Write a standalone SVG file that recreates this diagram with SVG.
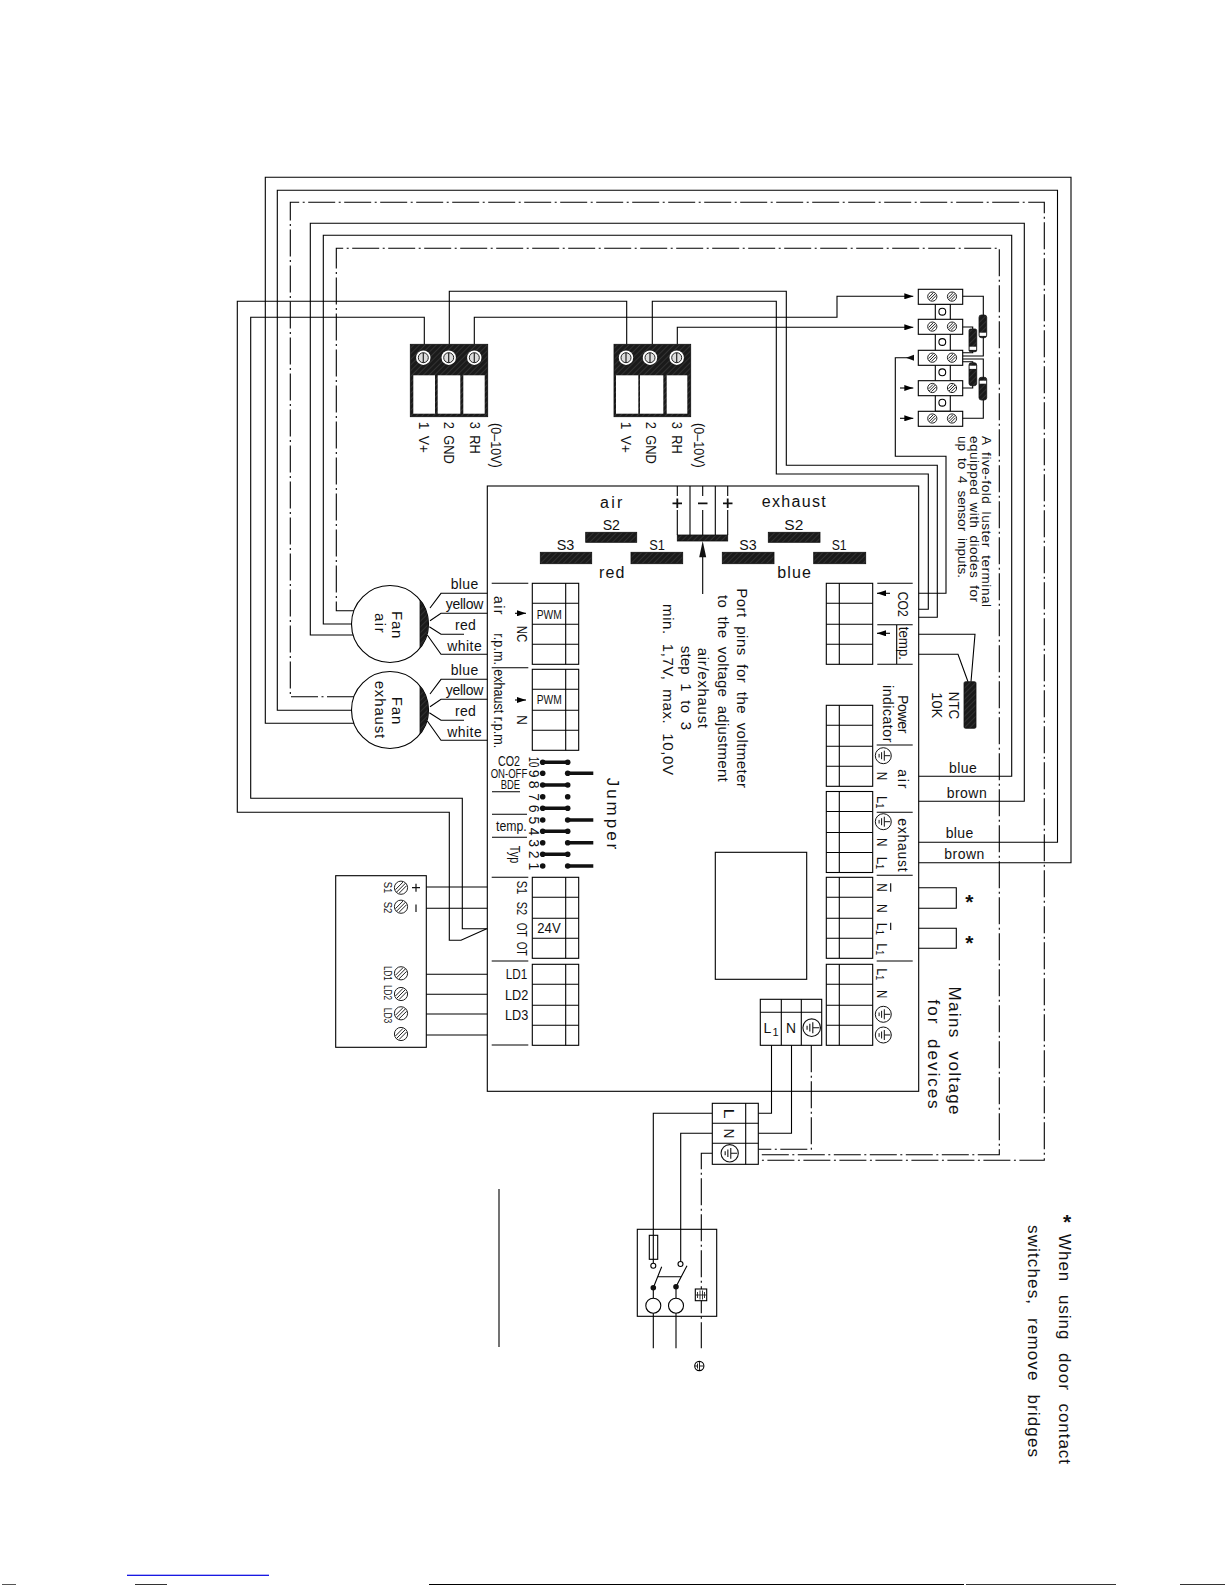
<svg xmlns="http://www.w3.org/2000/svg" width="1225" height="1585" viewBox="0 0 1225 1585">
<style>
text{font-family:"Liberation Sans",Arial,sans-serif;font-size:14px;fill:#111}
.s{font-size:11px}.m{font-size:12.5px}.l{font-size:17px}.c{font-size:15px}.a{font-size:13.5px}.p{font-size:15px}.bt{font-size:16px}
.ws{word-spacing:3px}
.l.ws{word-spacing:7px}
.p.ws{word-spacing:4px}
.st{font-size:21px;font-weight:bold}
.w,.n{fill:none;stroke:#000;stroke-width:1.1}
.d{fill:none;stroke:#000;stroke-width:1.1;stroke-dasharray:27 3.5 2 3.5}
.f{fill:#fff;stroke:#000;stroke-width:1.1}
.h{fill:url(#hatch);stroke:#111;stroke-width:.8}
.b{fill:#111}
.t{stroke:#111;stroke-width:3.4;fill:none}
</style>
<defs>
<pattern id="hatch" width="4" height="4" patternUnits="userSpaceOnUse" patternTransform="rotate(45)"><rect width="4" height="4" fill="#1a1a1a"/><line x1="0" y1="0" x2="0" y2="4" stroke="#4a4a4a" stroke-width="1"/></pattern>
<marker id="ah" markerUnits="userSpaceOnUse" markerWidth="9" markerHeight="6" refX="9" refY="3" orient="auto"><path d="M0,0L9,3L0,6z" fill="#000"/></marker>
<g id="earth"><circle r="8" fill="#fff" stroke="#111" stroke-width="1"/><path d="M7,0H1M1,-5V5M-1.7,-3.5V3.5M-4.2,-1.8V1.8" stroke="#111" stroke-width="1" fill="none"/></g>
<g id="sc"><circle r="7.2" fill="#fff"/><circle r="5" fill="#ddd" stroke="#222" stroke-width="1"/><path d="M0,-5V5" stroke="#222" stroke-width="1.2"/></g>
<g id="hs"><circle r="4.6" fill="#fff" stroke="#222" stroke-width="1"/><path d="M-3,3L3,-3M-3.6,.8L.8,-3.6M-.8,3.6L3.6,-.8" stroke="#222" stroke-width="1"/></g>
<g id="hb"><circle r="6.6" fill="#fff" stroke="#222" stroke-width="1"/><path d="M-4.6,4.6L4.6,-4.6M-5.6,2L2,-5.6M-2,5.6L5.6,-2" stroke="#222" stroke-width="1"/></g>
<g id="blk"><rect x="0" y="0" width="46.4" height="81" class="n"/><path d="M33.4,0V81M0,20H46.4M0,41H46.4M0,61H46.4" class="n"/></g>
<g id="brk"><rect x="0" y="0" width="46.4" height="81" class="n"/><path d="M13,0V81M0,20H46.4M0,41H46.4M0,61H46.4" class="n"/></g>
</defs>

<g id="connectors">
<path class="w" d="M354,723.3H265.3V177.3H1071V862.7H918.7"/>
<path class="w" d="M351.5,710.3H277.3V190.3H1057.5V842.3H918.7"/>
<path class="d" d="M354,696.7H290.3V202.3H1044.3V1160.3H758.3"/>
<path class="w" d="M353,635H310.3V223.3H1024.3V801.3H918.7"/>
<path class="w" d="M351.5,624H323.3V235.3H1011.7V776.3H918.7"/>
<path class="d" d="M354,610.7H336.3V248.3H999.3V1154.7H758.3"/>
<path class="w" d="M626.7,344.3V301.3H237.3V812.3H449.3V940.3H461L486.7,928.7"/>
<path class="w" d="M424.3,344.3V317.3H250.7V798.3H462.3V928.7H487.3"/>
<path class="w" d="M449.3,344.3V291.3H786.3V465.3H937.3V617.3H918.7"/>
<path class="w" d="M652.3,344.3V301.3H776.3V474H928.3V609.3H918.7"/>
<path class="w" marker-end="url(#ah)" d="M474.3,344.3V317.3H837V296.3H913.3"/>
<path class="w" marker-end="url(#ah)" d="M677.3,344.3V327.3H913.3"/>
<path class="w" d="M918.7,593.3H946V456.3H895.3V357.7H914"/>
<path class="w" d="M918.7,634.3H975L971,681.7M918.7,654.3H958L968,681.7"/>
<path class="w" d="M918.7,887.7H956.3V908.3H918.7M918.7,928.3H956.3V948.3H918.7"/>
<path class="w" d="M771.5,1045.3V1113.3H758.3M791.5,1045.3V1133.3H758.3"/>
<path class="d" d="M811.3,1045.3V1149.3H758.3"/>
<path class="w" d="M712.3,1113.3H653.3V1235.3M712.3,1133.3H680.7V1261.5"/>
<path class="d" d="M712.3,1153.3H701.3V1348.3"/>
<path class="w" d="M426.3,887H487.3M426.3,908.3H487.3M426.3,974.3H487.3M426.3,994.3H487.3M426.3,1014H487.3M426.3,1035H487.3"/>
</g>

<g id="sensor-air">
<rect x="410.3" y="344.3" width="77.4" height="72.4" class="h"/>
<rect x="413.3" y="375.3" width="21.7" height="38.4" fill="#fff"/><rect x="437.7" y="375.3" width="22.6" height="38.4" fill="#fff"/><rect x="463.3" y="375.3" width="21.4" height="38.4" fill="#fff"/>
<use href="#sc" x="423.3" y="357.7"/><use href="#sc" x="448.7" y="357.7"/><use href="#sc" x="474.3" y="357.7"/>
<text class="ws" transform="translate(418.5 421.7) rotate(90)" textLength="31.3">1 V+</text>
<text class="ws" transform="translate(443.5 421.7) rotate(90)" textLength="42" lengthAdjust="spacingAndGlyphs">2 GND</text>
<text class="ws" transform="translate(469.5 421.7) rotate(90)" textLength="32" lengthAdjust="spacingAndGlyphs">3 RH</text>
<text transform="translate(491 423) rotate(90)" textLength="44.7" lengthAdjust="spacingAndGlyphs">(0–10V)</text>
</g>
<g id="sensor-exhaust">
<rect x="614" y="344.3" width="76.7" height="72.4" class="h"/>
<rect x="616" y="375.3" width="22.3" height="38.4" fill="#fff"/><rect x="640" y="375.3" width="23.3" height="38.4" fill="#fff"/><rect x="666.7" y="375.3" width="20.6" height="38.4" fill="#fff"/>
<use href="#sc" x="626" y="357.7"/><use href="#sc" x="650" y="357.7"/><use href="#sc" x="676.7" y="357.7"/>
<text class="ws" transform="translate(620.5 421.7) rotate(90)" textLength="31.3">1 V+</text>
<text class="ws" transform="translate(646 421.7) rotate(90)" textLength="42" lengthAdjust="spacingAndGlyphs">2 GND</text>
<text class="ws" transform="translate(672 421.7) rotate(90)" textLength="32" lengthAdjust="spacingAndGlyphs">3 RH</text>
<text transform="translate(693.5 423) rotate(90)" textLength="44.7" lengthAdjust="spacingAndGlyphs">(0–10V)</text>
</g>

<g id="luster-terminal">
<rect x="935.3" y="304.3" width="15" height="107" class="n"/>
<circle cx="942.3" cy="311.7" r="3.4" class="f"/><circle cx="942.3" cy="342" r="3.4" class="f"/><circle cx="942.3" cy="372.3" r="3.4" class="f"/><circle cx="942.3" cy="402.7" r="3.4" class="f"/>
<rect x="918.3" y="289.3" width="44.4" height="15" class="f"/><rect x="918.3" y="319.3" width="44.4" height="15" class="f"/><rect x="918.3" y="350.3" width="44.4" height="15" class="f"/><rect x="918.3" y="380.7" width="44.4" height="15" class="f"/><rect x="918.3" y="411.3" width="44.4" height="15" class="f"/>
<use href="#hs" x="932.3" y="296.6"/><use href="#hs" x="952" y="296.6"/><use href="#hs" x="932.3" y="326.6"/><use href="#hs" x="952" y="326.6"/><use href="#hs" x="932.3" y="357.7"/><use href="#hs" x="952" y="357.7"/><use href="#hs" x="932.3" y="388"/><use href="#hs" x="952" y="388"/><use href="#hs" x="932.3" y="418.5"/><use href="#hs" x="952" y="418.5"/>
<path class="w" d="M962.7,296.3H983.3V356H962.7M962.7,327H972.7V352.7H962.7M962.7,418.3H983.3V359H962.7M962.7,388H972.7V361.7H962.7"/>
<rect x="979" y="315" width="7.7" height="22.7" rx="2.4" class="h"/><rect x="979.6" y="332.7" width="6.5" height="3.2" fill="#fff"/>
<rect x="969" y="329" width="7.7" height="22.7" rx="1.5" class="h"/><rect x="969.6" y="346.7" width="6.5" height="3.2" fill="#fff"/>
<rect x="979" y="377.3" width="7.7" height="22.7" rx="2.4" class="h"/><rect x="979.6" y="380.7" width="6.5" height="3" fill="#fff"/>
<rect x="969" y="362.7" width="7.7" height="23" rx="2.4" class="h"/><rect x="969.6" y="365.7" width="6.5" height="3.2" fill="#fff"/>
<path class="w" marker-end="url(#ah)" d="M900,388H913.3"/>
<path class="w" marker-end="url(#ah)" d="M900,418.3H913.3"/>
<path d="M906,357.7L914,354.7V360.7z" class="b"/>
<text class="a ws" transform="translate(982 436) rotate(90)" textLength="171">A five-fold luster terminal</text>
<text class="a ws" transform="translate(970 436) rotate(90)" textLength="166">equipped with diodes for</text>
<text class="a ws" transform="translate(958 436) rotate(90)" textLength="142">up to 4 sensor inputs.</text>
</g>

<g id="fan-air">
<circle cx="390" cy="624" r="38.5" class="f"/>
<path class="h" d="M420,600.3A38.5,38.5 0 0 1 420,647.7z"/>
<path class="w" d="M430,608L441,593.3H487.3M430,620.7L441,613.3H487.3M429.3,626.7L441,634.3H464M427.3,635L441,654.3H487.3"/>
<text x="450.7" y="589" textLength="27.6">blue</text>
<text x="445.7" y="608.5" textLength="37.6">yellow</text>
<text x="455" y="630" textLength="20.7">red</text>
<text x="447.3" y="650.5" textLength="34.4">white</text>
<text class="c" transform="translate(391.7 611) rotate(90)" textLength="27.3">Fan</text>
<text class="c" transform="translate(375 613) rotate(90)" textLength="19.7">air</text>
</g>
<g id="fan-exhaust">
<circle cx="390" cy="710" r="38.5" class="f"/>
<path class="h" d="M420,686.3A38.5,38.5 0 0 1 420,733.7z"/>
<path class="w" d="M430,694L441,679.3H487.3M430,706.7L441,699.3H487.3M429.3,712.7L441,720.3H464M427.3,721L441,740.3H487.3"/>
<text x="450.7" y="675" textLength="27.6">blue</text>
<text x="445.7" y="694.5" textLength="37.6">yellow</text>
<text x="455" y="716" textLength="20.7">red</text>
<text x="447.3" y="736.5" textLength="34.4">white</text>
<text class="c" transform="translate(392 696.7) rotate(90)" textLength="27.6">Fan</text>
<text class="c" transform="translate(375 680.7) rotate(90)" textLength="57.6">exhaust</text>
</g>

<g id="controller">
<rect x="335.7" y="875.7" width="90.6" height="171.6" class="n"/>
<use href="#hb" x="401" y="887.7"/><use href="#hb" x="401" y="906.7"/><use href="#hb" x="401" y="973.3"/><use href="#hb" x="401" y="994"/><use href="#hb" x="401" y="1013.3"/><use href="#hb" x="401" y="1034"/>
<text class="s" transform="translate(383.5 881.7) rotate(90)" textLength="11.6" lengthAdjust="spacingAndGlyphs">S1</text>
<text class="s" transform="translate(383.5 901.7) rotate(90)" textLength="11.6" lengthAdjust="spacingAndGlyphs">S2</text>
<text class="s" transform="translate(383.5 966) rotate(90)" textLength="14.7" lengthAdjust="spacingAndGlyphs">LD1</text>
<text class="s" transform="translate(383.5 985) rotate(90)" textLength="15" lengthAdjust="spacingAndGlyphs">LD2</text>
<text class="s" transform="translate(383.5 1007.7) rotate(90)" textLength="15.6" lengthAdjust="spacingAndGlyphs">LD3</text>
<path d="M412,887.7H420M416,883.7V891.7M416,904.5V912" stroke="#111" stroke-width="1.2"/>
</g>

<g id="board">
<rect x="487.3" y="486" width="431.4" height="605.3" class="n"/>
<rect x="715.3" y="852.3" width="91.4" height="127" class="n"/>
<text class="bt" x="600" y="508" textLength="22.3">air</text>
<text class="bt" x="761.7" y="507.3" textLength="64">exhaust</text>
<text class="bt" x="599" y="578.3" textLength="25.3">red</text>
<text class="bt" x="777.3" y="577.7" textLength="33.7">blue</text>
<text class="c" x="602.7" y="530" textLength="17.3" lengthAdjust="spacingAndGlyphs">S2</text>
<text class="c" x="784.3" y="530" textLength="19" lengthAdjust="spacingAndGlyphs">S2</text>
<text class="c" x="556.7" y="550" textLength="17.6" lengthAdjust="spacingAndGlyphs">S3</text>
<text class="c" x="739.3" y="550" textLength="17.4" lengthAdjust="spacingAndGlyphs">S3</text>
<text class="c" x="649.3" y="550" textLength="15.7" lengthAdjust="spacingAndGlyphs">S1</text>
<text class="c" x="831.7" y="550" textLength="15" lengthAdjust="spacingAndGlyphs">S1</text>
<rect x="585.7" y="532.3" width="51" height="10" class="h"/><rect x="768.3" y="532.3" width="51.7" height="10" class="h"/>
<rect x="540.3" y="552.3" width="51.4" height="11.4" class="h"/><rect x="631" y="552.3" width="51.7" height="11.4" class="h"/><rect x="722.3" y="552.3" width="51.7" height="11.4" class="h"/><rect x="813.7" y="552.3" width="52" height="11.4" class="h"/>
<rect x="677.3" y="535" width="50.4" height="6" class="h"/>
<path class="n" d="M677.3,486V496M677.3,510V535M690,486V535M702.7,486V496M702.7,510V535M715.3,486V535M727.7,486V496M727.7,510V535"/>
<path d="M672.5,503.3H682M677.3,498.5V508M698,503.3H707.5M723,503.3H732.5M727.7,498.5V508" stroke="#111" stroke-width="1.8" fill="none"/>
<path class="n" d="M702.7,557V594"/><path class="b" d="M702.7,541L706.2,557.3H699.2z"/>
<text class="p ws" transform="translate(736.5 588.3) rotate(90)" textLength="199.7">Port pins for the voltmeter</text>
<text class="p ws" transform="translate(717.5 595) rotate(90)" textLength="186.7">to the voltage adjustment</text>
<text class="p" transform="translate(698 647.7) rotate(90)" textLength="80.3">air/exhaust</text>
<text class="p ws" transform="translate(681 645.7) rotate(90)" textLength="84.3">step 1 to 3</text>
<text class="p ws" transform="translate(663 604) rotate(90)" textLength="171">min. 1,7V, max. 10,0V</text>

<g id="left-terminals">
<path class="n" d="M491.7,583.3H528.3M491.7,667.7H528.3M491.7,877.3H528.3M491.7,961H528.3M491.7,1045H528.3"/>
<use href="#blk" x="532.3" y="583.3"/><use href="#blk" x="532.3" y="669.3"/><use href="#blk" x="532.3" y="877.3"/><use href="#blk" x="532.3" y="964.3"/>
<text class="m" x="536.7" y="619" textLength="25" lengthAdjust="spacingAndGlyphs">PWM</text>
<text class="m" x="536.7" y="704.3" textLength="25" lengthAdjust="spacingAndGlyphs">PWM</text>
<text x="537.3" y="933.3" textLength="23.4" lengthAdjust="spacingAndGlyphs">24V</text>
<text transform="translate(494 596) rotate(90)" textLength="18.3">air</text>
<text transform="translate(494 633.3) rotate(90)" textLength="31.7" lengthAdjust="spacingAndGlyphs">r.p.m.</text>
<text transform="translate(516.7 625.7) rotate(90)" textLength="16.6" lengthAdjust="spacingAndGlyphs">NC</text>
<text transform="translate(494 669.3) rotate(90)" textLength="79" lengthAdjust="spacingAndGlyphs">exhaust r.p.m.</text>
<text transform="translate(516.7 715) rotate(90)" textLength="10" lengthAdjust="spacingAndGlyphs">N</text>
<path class="w" marker-end="url(#ah)" d="M515,613.3H526"/>
<path class="w" marker-end="url(#ah)" d="M515,700H526"/>
<text class="c" transform="translate(516.7 880.7) rotate(90)" textLength="13.6" lengthAdjust="spacingAndGlyphs">S1</text>
<text class="c" transform="translate(516.7 901.7) rotate(90)" textLength="13.3" lengthAdjust="spacingAndGlyphs">S2</text>
<text class="c" transform="translate(516.7 922.7) rotate(90)" textLength="14" lengthAdjust="spacingAndGlyphs">OT</text>
<text class="c" transform="translate(516.7 941.7) rotate(90)" textLength="14" lengthAdjust="spacingAndGlyphs">OT</text>
<text class="c" x="505.7" y="979.3" textLength="21.6" lengthAdjust="spacingAndGlyphs">LD1</text>
<text class="c" x="505" y="1000" textLength="23.3" lengthAdjust="spacingAndGlyphs">LD2</text>
<text class="c" x="505" y="1020" textLength="23.3" lengthAdjust="spacingAndGlyphs">LD3</text>
</g>

<g id="jumper">
<path class="n" d="M492,791.7H520M492,814.3H527M492,837.3H527"/>
<text x="498" y="766" textLength="22" lengthAdjust="spacingAndGlyphs">CO2</text>
<text class="m" x="490.7" y="777.7" textLength="36.6" lengthAdjust="spacingAndGlyphs">ON-OFF</text>
<text class="m" x="500.7" y="789" textLength="19.3" lengthAdjust="spacingAndGlyphs">BDE</text>
<text x="496" y="830.7" textLength="30.7" lengthAdjust="spacingAndGlyphs">temp.</text>
<text transform="translate(510 845.7) rotate(90)" textLength="17.6" lengthAdjust="spacingAndGlyphs">Typ</text>
<text class="l" transform="translate(607 777.7) rotate(90)" textLength="71.6">Jumper</text>
<text transform="translate(529 756.7) rotate(90)" textLength="10.6" lengthAdjust="spacingAndGlyphs">10</text>
<g style="font-size:13px">
<text transform="translate(529 769.8) rotate(90)">9</text><text transform="translate(529 780.8) rotate(90)">8</text><text transform="translate(529 793.2) rotate(90)">7</text><text transform="translate(529 804.8) rotate(90)">6</text><text transform="translate(529 816.5) rotate(90)">5</text><text transform="translate(529 827.8) rotate(90)">4</text><text transform="translate(529 839.2) rotate(90)">3</text><text transform="translate(529 850.8) rotate(90)">2</text><text transform="translate(529 862.5) rotate(90)">1</text>
</g>
<path class="t" d="M542.7,762.3H567.7M542.7,785H567.7M542.7,808.3H567.7M542.7,831.3H567.7M542.7,854.3H567.7M567.7,773.3H593.3M567.7,820H593.3M567.7,842.7H593.3M567.7,866H593.3"/>
<g class="b"><circle cx="542.7" cy="762.3" r="2.8"/><circle cx="567.7" cy="762.3" r="2.8"/><circle cx="542.7" cy="773.3" r="2.8"/><circle cx="567.7" cy="773.3" r="2.8"/><circle cx="542.7" cy="785" r="2.8"/><circle cx="567.7" cy="785" r="2.8"/><circle cx="542.7" cy="796.7" r="2.8"/><circle cx="567.7" cy="796.7" r="2.8"/><circle cx="542.7" cy="808.3" r="2.8"/><circle cx="567.7" cy="808.3" r="2.8"/><circle cx="542.7" cy="820" r="2.8"/><circle cx="567.7" cy="820" r="2.8"/><circle cx="542.7" cy="831.3" r="2.8"/><circle cx="567.7" cy="831.3" r="2.8"/><circle cx="542.7" cy="842.7" r="2.8"/><circle cx="567.7" cy="842.7" r="2.8"/><circle cx="542.7" cy="854.3" r="2.8"/><circle cx="567.7" cy="854.3" r="2.8"/><circle cx="542.7" cy="866" r="2.8"/><circle cx="567.7" cy="866" r="2.8"/></g>
</g>

<g id="right-terminals">
<use href="#brk" x="826.3" y="583.3"/><use href="#brk" x="826.3" y="705.3"/><use href="#brk" x="826.3" y="791.5"/><use href="#brk" x="826.3" y="877.3"/><use href="#brk" x="826.3" y="964.3"/>
<path class="n" d="M877.3,583.3H912.7M877.3,624.7H912.7M877.3,664.3H912.7M876.7,745H912.7M876.7,812.3H912.7M876.7,875.3H912.7M876.7,961H912.7M896.7,624.7V664.3"/>
<path class="w" marker-end="url(#ah)" d="M890,593.3H877"/>
<path class="w" marker-end="url(#ah)" d="M890,633.3H877"/>
<text transform="translate(897.7 591.7) rotate(90)" textLength="25" lengthAdjust="spacingAndGlyphs">CO2</text>
<text transform="translate(898.5 626.7) rotate(90)" textLength="33.3" lengthAdjust="spacingAndGlyphs">temp.</text>
<text transform="translate(897.7 695) rotate(90)" textLength="38.3">Power</text>
<text transform="translate(883 685) rotate(90)" textLength="57.3">indicator</text>
<text transform="translate(898.3 769.3) rotate(90)" textLength="19">air</text>
<text transform="translate(898.3 818.3) rotate(90)" textLength="53.4">exhaust</text>
<use href="#earth" x="883.3" y="755.7"/><use href="#earth" x="883.3" y="821.7"/><use href="#earth" x="883.3" y="1014.3"/><use href="#earth" x="883.3" y="1035"/>
<text transform="translate(877 771.7) rotate(90)" textLength="8.6" lengthAdjust="spacingAndGlyphs">N</text>
<text transform="translate(877 796) rotate(90)" textLength="12.3" lengthAdjust="spacingAndGlyphs">L<tspan font-size="10" dy="1.5">1</tspan></text>
<text transform="translate(877 838) rotate(90)" textLength="8.6" lengthAdjust="spacingAndGlyphs">N</text>
<text transform="translate(877 856.7) rotate(90)" textLength="12.6" lengthAdjust="spacingAndGlyphs">L<tspan font-size="10" dy="1.5">1</tspan></text>
<text transform="translate(877 883.3) rotate(90)" textLength="8.4" lengthAdjust="spacingAndGlyphs">N</text>
<text transform="translate(877 904) rotate(90)" textLength="8.7" lengthAdjust="spacingAndGlyphs">N</text>
<text transform="translate(877 922.7) rotate(90)" textLength="12.3" lengthAdjust="spacingAndGlyphs">L<tspan font-size="10" dy="1.5">1</tspan></text>
<text transform="translate(877 943.3) rotate(90)" textLength="11.7" lengthAdjust="spacingAndGlyphs">L<tspan font-size="10" dy="1.5">1</tspan></text>
<text transform="translate(877 968.3) rotate(90)" textLength="11.7" lengthAdjust="spacingAndGlyphs">L<tspan font-size="10" dy="1.5">1</tspan></text>
<text transform="translate(877 990) rotate(90)" textLength="8.3" lengthAdjust="spacingAndGlyphs">N</text>
<path class="n" d="M890.7,883.3V891.7M890.7,922.7V930"/>
</g>

<g id="mains-terminal">
<rect x="760.3" y="999.3" width="61.4" height="46" class="n"/>
<path class="n" d="M760.3,1012.3H821.7M781.3,1012.3V1045.3M801.3,999.3V1045.3M781.3,999.3V1012.3"/>
<text x="763.5" y="1033" textLength="9">L</text><text class="s" x="772.5" y="1036">1</text>
<text x="786" y="1032.5" textLength="10" lengthAdjust="spacingAndGlyphs">N</text>
<use href="#earth" transform="translate(811.7 1027.7) scale(1.1)"/>
</g>
</g>

<g id="ntc-sensor">
<rect x="964" y="681.7" width="12" height="46.6" rx="1.5" class="h"/>
<text transform="translate(948.5 691.7) rotate(90)" textLength="27.6" lengthAdjust="spacingAndGlyphs">NTC</text>
<text transform="translate(932 692.3) rotate(90)" textLength="26" lengthAdjust="spacingAndGlyphs">10K</text>
</g>

<g id="wire-labels">
<text x="949" y="772.7" textLength="27.7">blue</text>
<text x="946.7" y="797.7" textLength="40">brown</text>
<text x="945.7" y="838.3" textLength="27.6">blue</text>
<text x="944.3" y="859" textLength="40">brown</text>
<text class="st" x="969.3" y="908.7" text-anchor="middle">*</text>
<text class="st" x="969.3" y="950" text-anchor="middle">*</text>
<text class="l ws" transform="translate(948.5 986.5) rotate(90)" textLength="128">Mains voltage</text>
<text class="l ws" transform="translate(928 999.6) rotate(90)" textLength="109">for devices</text>
<text class="st" x="1067" y="1229" text-anchor="middle">*</text>
<text class="l ws" transform="translate(1058.5 1234) rotate(90)" textLength="230">When using door contact</text>
<text class="l ws" transform="translate(1027.5 1225) rotate(90)" textLength="232">switches, remove bridges</text>
</g>

<g id="supply-terminal">
<rect x="712.3" y="1103.3" width="46" height="61" class="f"/>
<path class="n" d="M712.3,1123.3H758.3M712.3,1143.3H758.3M745.7,1103.3V1164.3"/>
<text transform="translate(723.5 1108.5) rotate(90)" textLength="10" lengthAdjust="spacingAndGlyphs">L</text>
<text transform="translate(723.5 1128.5) rotate(90)" textLength="10" lengthAdjust="spacingAndGlyphs">N</text>
<use href="#earth" transform="translate(729.7 1153.3) scale(1.08)"/>
</g>

<g id="mains-switch">
<rect x="637.3" y="1229.3" width="79.4" height="87" class="n"/>
<rect x="649.3" y="1235.3" width="8.4" height="24" class="n"/>
<path class="n" d="M653.3,1235.3V1263.2M653.3,1287.7L661.7,1266.7M676,1286.7L687,1265.7M657.7,1276.7H681M653.3,1287.7V1298M676,1286.7V1298"/>
<circle cx="653.3" cy="1265.7" r="2.5" class="f"/><circle cx="680.5" cy="1264" r="2.5" class="f"/>
<circle cx="653.3" cy="1287.7" r="2.8" class="b"/><circle cx="676" cy="1286.7" r="2.8" class="b"/>
<circle cx="653.3" cy="1305.7" r="7.5" class="f"/><circle cx="676" cy="1305.7" r="7.5" class="f"/>
<path class="n" d="M653.3,1313.2V1348.3M676,1313.2V1348.3M499,1189V1347"/>
<rect x="695.3" y="1289" width="11.4" height="11.7" class="f"/>
<path d="M697.5,1292V1298M700,1290.5V1299.5M702.5,1290.5V1299.5M704.5,1292V1298M695.3,1295H706.7" stroke="#222" stroke-width=".9"/>
<circle cx="699.3" cy="1366" r="4.6" class="f"/><path d="M703.5,1366H699.5M699.5,1362V1370M697.5,1363.5V1368.5M696,1365V1367" stroke="#222" stroke-width="1"/>
</g>

<g id="page-edge">
<rect x="127" y="1574.7" width="142" height="1.2" fill="#0000e0"/>
<rect x="429" y="1584" width="535" height="1" fill="#000"/>
<rect x="966" y="1584" width="150" height="1" fill="#333"/>
<rect x="1180" y="1584" width="45" height="1" fill="#333"/>
<rect x="135" y="1584" width="32" height="1" fill="#333"/>
<rect x="2" y="1584" width="14" height="1" fill="#555"/>
</g>
</svg>
